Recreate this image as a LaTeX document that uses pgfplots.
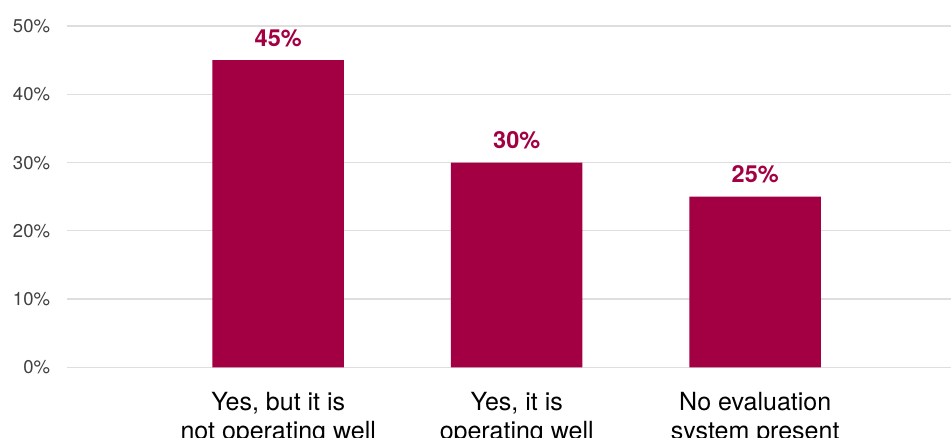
\documentclass[border=0pt]{standalone}
\usepackage{pgfplots}
\pgfplotsset{compat=1.18}
\usepackage{fontspec}
\setmainfont{TeX Gyre Heros}
\definecolor{barc}{RGB}{162,0,66}
\definecolor{gridc}{RGB}{222,222,222}
\definecolor{tickc}{RGB}{64,64,64}
\begin{document}
\begin{tikzpicture}
\useasboundingbox (-66.7pt,-69.7pt) rectangle (884.3pt,367.3pt);
\clip (-66.7pt,-69.7pt) rectangle (884.3pt,367.3pt);
\begin{axis}[
  at={(0pt,0pt)}, anchor=south west,
  scale only axis,
  width=884.3pt, height=341.3pt,
  ybar, bar width=131.5pt,
  xmin=-0.887, xmax=2.821,
  ymin=0, ymax=50,
  enlargelimits=false,
  axis line style={draw=none},
  tick style={draw=none},
  ymajorgrids,
  grid style={gridc, line width=1.4pt},
  ytick={0,10,20,30,40,50},
  yticklabels={0\%,10\%,20\%,30\%,40\%,50\%},
  yticklabel style={font=\fontsize{18.5}{22}\selectfont, text=tickc, anchor=base east, inner sep=0pt, xshift=-16.5pt, yshift=-6.6pt},
  xtick={0,1,2},
  xticklabels={{Yes, but it is\\not operating well},{Yes, it is\\operating well},{No evaluation\\system present}},
  xticklabel style={font=\fontsize{25}{29.5}\selectfont, align=center, anchor=north, inner sep=0pt, yshift=-20.5pt, text=black},
  /pgf/number format/assume math mode=true,
  nodes near coords={\pgfmathprintnumber[assume math mode=true]{\pgfplotspointmeta}\%},
  every node near coord/.append style={font=\bfseries\fontsize{23.5}{27}\selectfont, text=barc, anchor=base, inner sep=0pt, yshift=14pt},
]
\addplot[fill=barc, draw=none] coordinates {(0,45) (1,30) (2,25)};
\end{axis}
\end{tikzpicture}
\end{document}
